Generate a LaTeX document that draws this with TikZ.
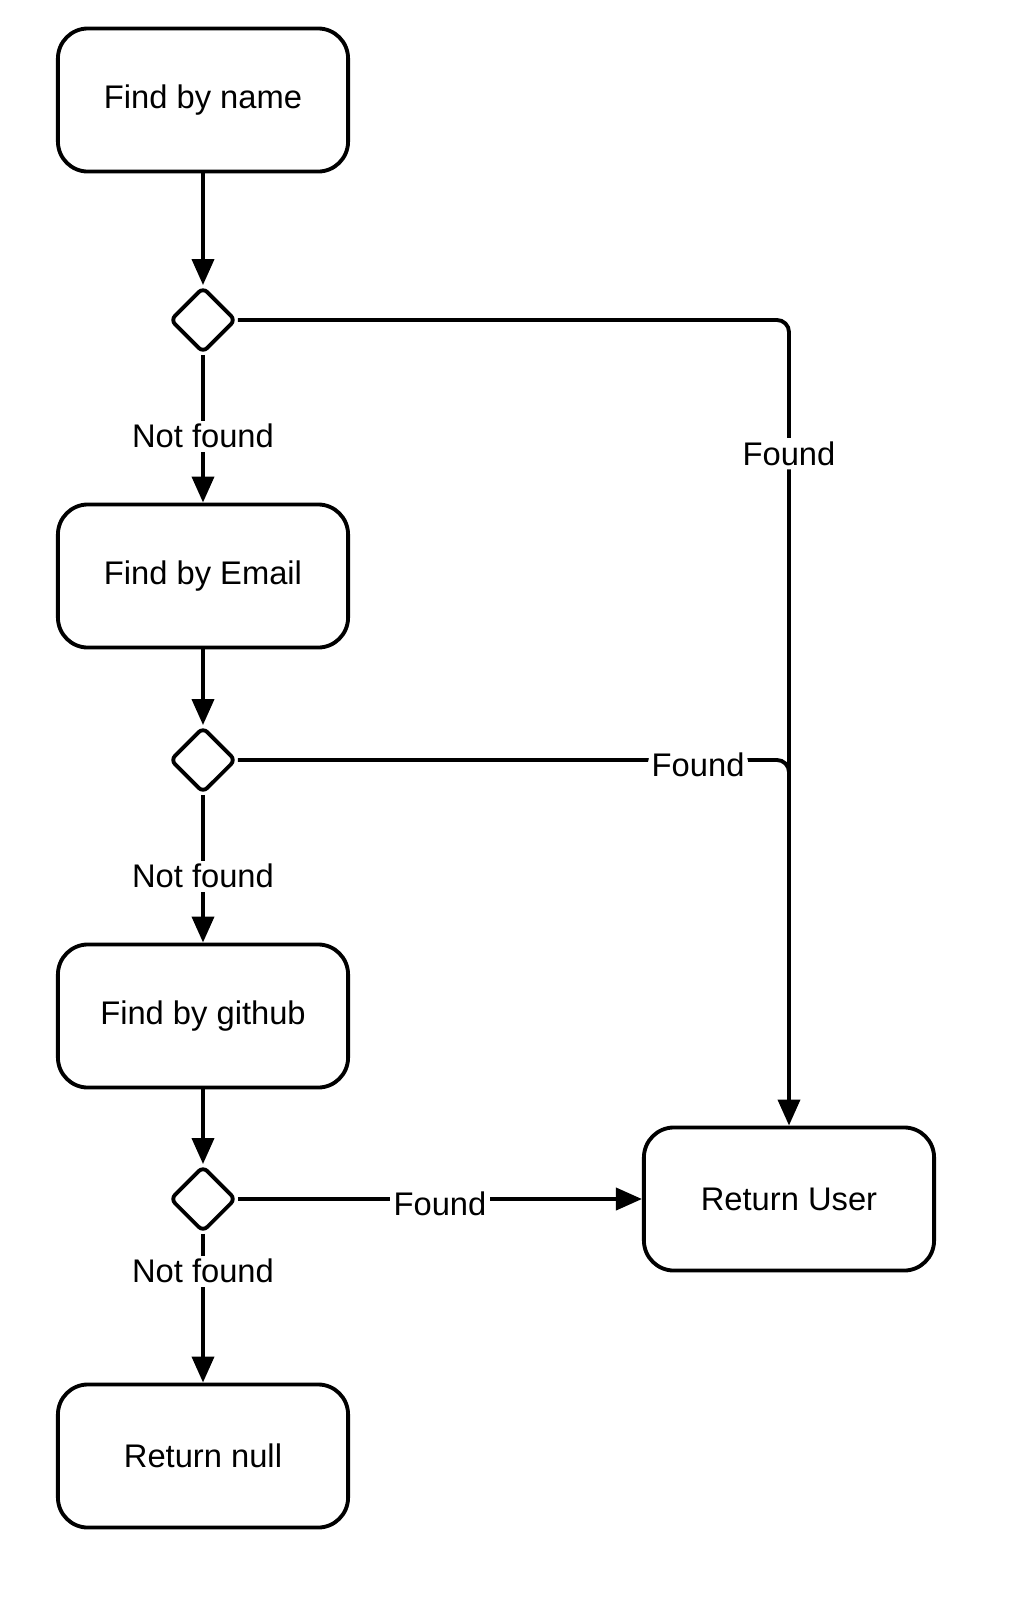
\documentclass[tikz,border=0pt]{standalone}
\usepackage{fontspec}
\setmainfont{Liberation Sans}
\usetikzlibrary{shapes.geometric,arrows.meta}

\begin{document}
\begin{tikzpicture}[x=0.01cm,y=-0.01cm,line width=1.1pt,>={Triangle[length=0.26cm,width=0.22cm]}]
\tikzstyle{every node}+=[font=\fontsize{9.3}{11}\selectfont]
\tikzstyle{action}=[draw,rounded corners=0.3cm,minimum width=2.9cm,minimum height=1.43cm,inner sep=0pt]
\tikzstyle{choice}=[draw,diamond,rounded corners=0.06cm,minimum width=0.66cm,minimum height=0.66cm,inner sep=0pt]
\tikzstyle{lbl}=[fill=white,inner sep=1pt]
\useasboundingbox (0,0) rectangle (1020,1605);
\node [action] (name) at (203,100) {Find by name};
\node [choice] (d1) at (203,320) {};
\node [action] (email) at (203,576) {Find by Email};
\node [choice] (d2) at (203,760) {};
\node [action] (github) at (203,1016) {Find by github};
\node [choice] (d3) at (203,1199) {};
\node [action] (null) at (203,1456) {Return null};
\node [action] (user) at (789,1199) {Return User};
\coordinate (merge) at (789,800);
\draw [->] (name) -- (d1);
\draw [->] (d1) -- node [lbl,pos=0.55] {Not found} (email);
\draw [->] (email) -- (d2);
\draw [->] (d2) -- node [lbl,pos=0.55] {Not found} (github);
\draw [->] (github) -- (d3);
\draw [->] (d3) -- node [lbl,pos=0.25] {Not found} (null);
\draw [->,rounded corners=0.12cm] (d1.east) -- (user.north |- d1.east) -- node [lbl,pos=0.166] {Found} (user.north);
\draw [rounded corners=0.12cm] (d2.east) -- node [lbl,pos=0.835,yshift=-0.05cm] {Found} (user.north |- d2.east) -- (merge);
\draw [->] (d3) -- node [lbl,yshift=-0.05cm] {Found} (user);
\end{tikzpicture}
\end{document}
